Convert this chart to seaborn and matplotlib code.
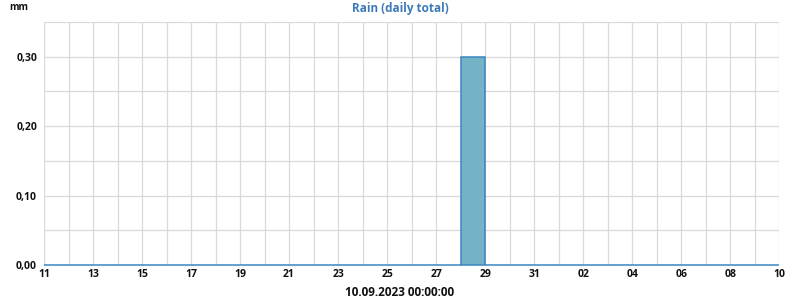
import matplotlib
matplotlib.use("Agg")
import matplotlib.pyplot as plt
import seaborn as sns
import numpy as np
import pandas as pd
from matplotlib.ticker import MultipleLocator, FixedLocator, FixedFormatter

# Data: daily rain totals, 11.08.2023 .. 09.09.2023
dates = pd.date_range("2023-08-11", "2023-09-09", freq="D")
rain_mm = [0.0, 0.0, 0.0, 0.0, 0.0, 0.0, 0.0, 0.0, 0.0, 0.0,
           0.0, 0.0, 0.0, 0.0, 0.0, 0.0, 0.0, 0.30, 0.0, 0.0,
           0.0, 0.0, 0.0, 0.0, 0.0, 0.0, 0.0, 0.0, 0.0, 0.0]
tick_labels = ["11", "13", "15", "17", "19", "21", "23", "25", "27", "29",
               "31", "02", "04", "06", "08", "10"]
y_ticks = [0.0, 0.10, 0.20, 0.30]
y_tick_labels = ["0,00", "0,10", "0,20", "0,30"]

sns.set_theme(style="white")
plt.rcParams["font.family"] = ["Open Sans", "DejaVu Sans"]

df = pd.DataFrame({"day": np.arange(len(dates)), "rain": rain_mm})

fig = plt.figure(figsize=(8, 3), dpi=100)
ax = fig.add_axes([0.055, 0.1167, 0.919, 0.81])

sns.histplot(data=df, x="day", weights="rain", binwidth=1,
             binrange=(0, len(dates)), ax=ax,
             color="#74b3c6", edgecolor="#3a86c2", linewidth=1.1,
             alpha=1.0, zorder=3)
for p in ax.patches:
    p.set_clip_on(False)
    p.set_zorder(3)
    p.set_edgecolor("#3a86c2")

ax.set_xlim(0, len(dates))
ax.set_ylim(0, 0.35)

ax.xaxis.set_major_locator(FixedLocator(np.arange(0, len(dates) + 1, 2)))
ax.xaxis.set_major_formatter(FixedFormatter(tick_labels))
ax.xaxis.set_minor_locator(MultipleLocator(1))
ax.yaxis.set_major_locator(FixedLocator(y_ticks))
ax.yaxis.set_major_formatter(FixedFormatter(y_tick_labels))
ax.yaxis.set_minor_locator(MultipleLocator(0.05))

ax.grid(which="both", color="#d9d9d9", linewidth=0.9, zorder=0)
ax.set_axisbelow(True)
for s in ax.spines.values():
    s.set_visible(False)

ax.tick_params(axis="both", which="both", length=0)
ax.tick_params(axis="x", pad=3)
ax.tick_params(axis="y", pad=5)
for lbl in ax.get_xticklabels() + ax.get_yticklabels():
    lbl.set_fontsize(7.5)
    lbl.set_fontweight("bold")
    lbl.set_color("#111111")

ax.set_xlabel("")
ax.set_ylabel("")

fig.text(0.5, 0.972, "Rain (daily total)", ha="center", va="center",
         fontsize=8.5, fontweight="bold", color="#3d7ab8")
fig.text(0.012, 0.975, "mm", ha="left", va="center", fontsize=7,
         fontweight="bold", color="#111111")
fig.text(0.5, 0.025, "10.09.2023 00:00:00", ha="center", va="center",
         fontsize=8.5, fontweight="bold", color="#111111")

fig.savefig("out.png", dpi=100)
